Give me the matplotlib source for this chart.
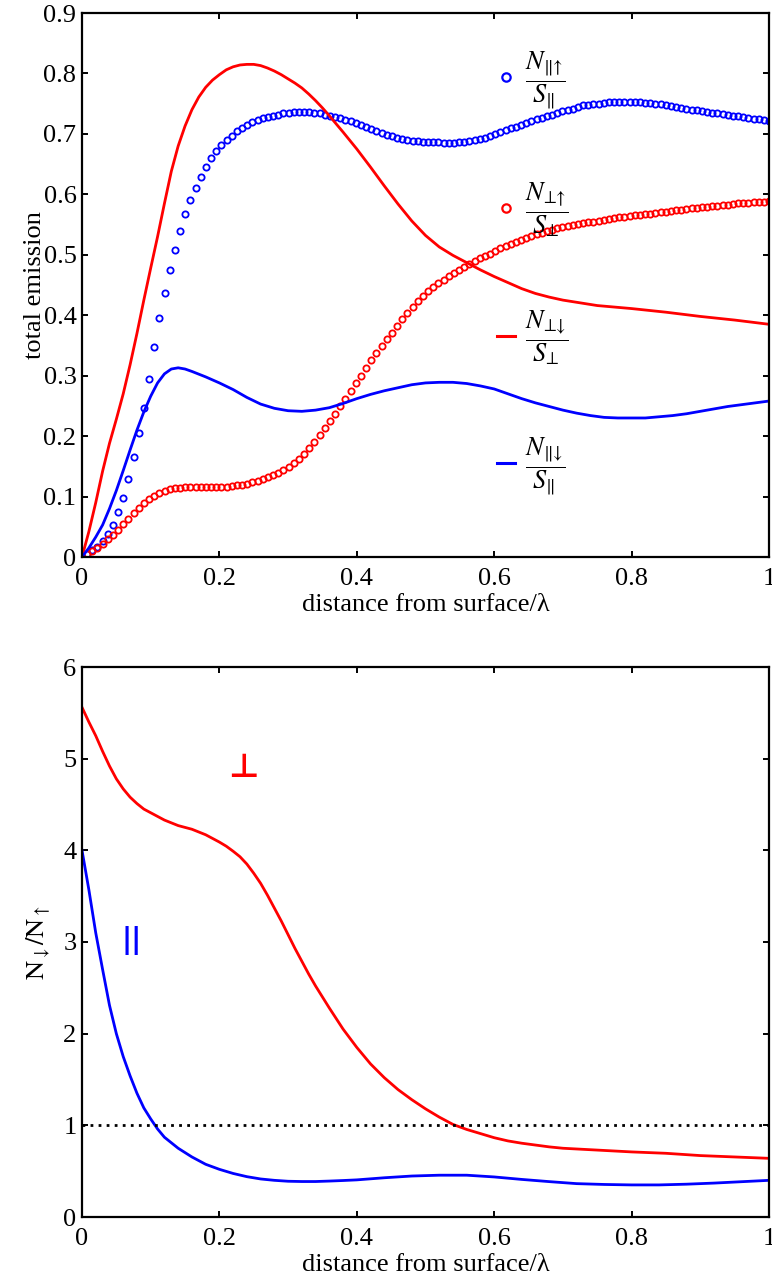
import numpy as np
import matplotlib
matplotlib.use("Agg")
import matplotlib.pyplot as plt
from matplotlib.lines import Line2D

plt.rcParams['font.family'] = ['Liberation Serif', 'DejaVu Serif']
plt.rcParams['mathtext.fontset'] = 'stix'

# ---------------- data: total emission vs distance ----------------
n_marks = 134
x_marks = np.linspace(0.0, 1.0, n_marks)

par_up = [
    0.000, 0.005, 0.011, 0.017, 0.027, 0.038, 0.053, 0.074, 0.097, 0.129,
    0.165, 0.205, 0.246, 0.295, 0.347, 0.395, 0.436, 0.474, 0.508, 0.540,
    0.567, 0.590, 0.611, 0.629, 0.646, 0.660, 0.671, 0.682, 0.690, 0.697,
    0.704, 0.710, 0.715, 0.720, 0.723, 0.726, 0.728, 0.730, 0.732, 0.734,
    0.735, 0.736, 0.737, 0.737, 0.736, 0.735, 0.734, 0.732, 0.730, 0.728,
    0.726, 0.723, 0.721, 0.718, 0.715, 0.711, 0.708, 0.704, 0.701, 0.698,
    0.696, 0.694, 0.692, 0.690, 0.689, 0.688, 0.687, 0.6865, 0.686, 0.686,
    0.6855, 0.6855, 0.6855, 0.686, 0.687, 0.688, 0.690, 0.691, 0.694, 0.697,
    0.700, 0.703, 0.706, 0.709, 0.712, 0.715, 0.718, 0.721, 0.724, 0.727,
    0.7295, 0.732, 0.735, 0.738, 0.740, 0.742, 0.745, 0.747, 0.748, 0.749,
    0.750, 0.751, 0.752, 0.7525, 0.753, 0.753, 0.753, 0.753, 0.752, 0.7515,
    0.751, 0.750, 0.749, 0.747, 0.746, 0.744, 0.743, 0.742, 0.740, 0.739,
    0.738, 0.737, 0.735, 0.734, 0.733, 0.731, 0.730, 0.729, 0.728, 0.727,
    0.725, 0.724, 0.723, 0.722,
]

perp_up = [
    0.000, 0.0045, 0.010, 0.0155, 0.022, 0.0295, 0.037, 0.0445, 0.054, 0.0635,
    0.0725, 0.081, 0.089, 0.0955, 0.101, 0.106, 0.110, 0.112, 0.1135, 0.1145,
    0.115, 0.1152, 0.1154, 0.1154, 0.1154, 0.1154, 0.1156, 0.116, 0.1165, 0.1175,
    0.1185, 0.1198, 0.1215, 0.1235, 0.126, 0.129, 0.132, 0.135, 0.139, 0.144,
    0.1495, 0.155, 0.1625, 0.1705, 0.1805, 0.191, 0.202, 0.213, 0.225, 0.237,
    0.250, 0.262, 0.275, 0.288, 0.300, 0.313, 0.326, 0.338, 0.349, 0.360,
    0.371, 0.382, 0.393, 0.403, 0.4135, 0.423, 0.432, 0.440, 0.4465, 0.453,
    0.459, 0.465, 0.470, 0.4755, 0.480, 0.485, 0.489, 0.494, 0.498, 0.502,
    0.507, 0.511, 0.5145, 0.518, 0.5215, 0.525, 0.528, 0.531, 0.534, 0.5365,
    0.539, 0.5415, 0.5435, 0.546, 0.5475, 0.549, 0.5505, 0.552, 0.5535, 0.555,
    0.5565, 0.558, 0.559, 0.5605, 0.562, 0.563, 0.564, 0.565, 0.566, 0.567,
    0.568, 0.569, 0.5705, 0.5715, 0.5725, 0.5735, 0.5745, 0.5755, 0.577, 0.578,
    0.579, 0.5795, 0.580, 0.581, 0.582, 0.583, 0.584, 0.585, 0.5855, 0.586,
    0.587, 0.5875, 0.588, 0.589,
]

x_perp_down = [
    0.00, 0.01, 0.02, 0.03, 0.04, 0.05, 0.06, 0.07, 0.08, 0.09,
    0.10, 0.11, 0.12, 0.13, 0.14, 0.15, 0.16, 0.17, 0.18, 0.19,
    0.20, 0.21, 0.22, 0.23, 0.24, 0.25, 0.26, 0.27, 0.28, 0.29,
    0.30, 0.31, 0.32, 0.33, 0.34, 0.35, 0.36, 0.38, 0.40, 0.42,
    0.44, 0.46, 0.48, 0.50, 0.52, 0.54, 0.56, 0.58, 0.60, 0.62,
    0.64, 0.66, 0.68, 0.70, 0.75, 0.80, 0.85, 0.90, 0.95, 1.00,
]
perp_down = [
    0.000, 0.042, 0.090, 0.142, 0.188, 0.228, 0.270, 0.318, 0.370, 0.425,
    0.478, 0.530, 0.585, 0.638, 0.680, 0.713, 0.740, 0.761, 0.777, 0.789,
    0.798, 0.806, 0.811, 0.814, 0.815, 0.815, 0.813, 0.809, 0.804, 0.798,
    0.791, 0.784, 0.776, 0.766, 0.755, 0.743, 0.730, 0.703, 0.675, 0.645,
    0.614, 0.584, 0.556, 0.532, 0.513, 0.499, 0.487, 0.475, 0.464, 0.454,
    0.444, 0.436, 0.430, 0.425, 0.416, 0.411, 0.405, 0.398, 0.392, 0.385,
]

x_par_down = [
    0.00, 0.01, 0.02, 0.03, 0.04, 0.05, 0.06, 0.07, 0.08, 0.09,
    0.10, 0.11, 0.12, 0.13, 0.14, 0.15, 0.16, 0.18, 0.20, 0.22,
    0.24, 0.26, 0.28, 0.30, 0.32, 0.34, 0.36, 0.38, 0.40, 0.42,
    0.44, 0.46, 0.48, 0.50, 0.52, 0.54, 0.56, 0.58, 0.60, 0.62,
    0.64, 0.66, 0.68, 0.70, 0.72, 0.74, 0.76, 0.78, 0.80, 0.82,
    0.84, 0.86, 0.88, 0.90, 0.92, 0.94, 0.96, 0.98, 1.00,
]
par_down = [
    0.000, 0.015, 0.033, 0.053, 0.080, 0.110, 0.143, 0.177, 0.210, 0.240,
    0.266, 0.288, 0.303, 0.311, 0.313, 0.311, 0.307, 0.298, 0.288, 0.277,
    0.264, 0.253, 0.246, 0.242, 0.241, 0.243, 0.247, 0.254, 0.262, 0.269,
    0.275, 0.280, 0.285, 0.288, 0.289, 0.289, 0.287, 0.283, 0.278, 0.270,
    0.262, 0.255, 0.249, 0.243, 0.238, 0.234, 0.231, 0.230, 0.230, 0.230,
    0.232, 0.234, 0.237, 0.241, 0.245, 0.249, 0.252, 0.255, 0.258,
]

# ---------------- data: down/up ratio ----------------
x_ratio_perp = [
    0.00, 0.01, 0.02, 0.03, 0.04, 0.05, 0.06, 0.07, 0.08, 0.09,
    0.10, 0.12, 0.14, 0.16, 0.18, 0.20, 0.21, 0.22, 0.23, 0.24,
    0.25, 0.26, 0.27, 0.28, 0.29, 0.30, 0.31, 0.32, 0.33, 0.34,
    0.36, 0.38, 0.40, 0.42, 0.44, 0.46, 0.48, 0.50, 0.52, 0.54,
    0.56, 0.58, 0.60, 0.62, 0.64, 0.66, 0.68, 0.70, 0.75, 0.80,
    0.85, 0.90, 0.95, 1.00,
]
ratio_perp = [
    5.56, 5.40, 5.25, 5.08, 4.92, 4.78, 4.67, 4.58, 4.51, 4.45,
    4.41, 4.33, 4.27, 4.23, 4.17, 4.09, 4.045, 3.99, 3.93, 3.85,
    3.75, 3.64, 3.51, 3.37, 3.23, 3.08, 2.93, 2.79, 2.65, 2.52,
    2.28, 2.05, 1.85, 1.67, 1.52, 1.39, 1.28, 1.18, 1.09, 1.01,
    0.955, 0.91, 0.865, 0.83, 0.805, 0.785, 0.765, 0.75, 0.73, 0.71,
    0.695, 0.67, 0.655, 0.64,
]

x_ratio_par = [
    0.00, 0.01, 0.02, 0.03, 0.04, 0.05, 0.06, 0.07, 0.08, 0.09,
    0.10, 0.11, 0.12, 0.13, 0.14, 0.16, 0.18, 0.20, 0.22, 0.24,
    0.26, 0.28, 0.30, 0.32, 0.34, 0.36, 0.38, 0.40, 0.44, 0.48,
    0.52, 0.56, 0.60, 0.64, 0.68, 0.72, 0.76, 0.80, 0.84, 0.88,
    0.92, 0.96, 1.00,
]
ratio_par = [
    4.00, 3.57, 3.10, 2.70, 2.31, 2.00, 1.75, 1.54, 1.35, 1.19,
    1.07, 0.96, 0.87, 0.81, 0.75, 0.655, 0.575, 0.52, 0.475, 0.44,
    0.415, 0.40, 0.39, 0.387, 0.387, 0.392, 0.398, 0.405, 0.428, 0.447,
    0.456, 0.456, 0.437, 0.41, 0.386, 0.364, 0.355, 0.35, 0.35, 0.358,
    0.37, 0.385, 0.40,
]

x_ticks = [0, 0.2, 0.4, 0.6, 0.8, 1]
x_tick_labels = ['0', '0.2', '0.4', '0.6', '0.8', '1']
top_y_ticks = [0, 0.1, 0.2, 0.3, 0.4, 0.5, 0.6, 0.7, 0.8, 0.9]
top_y_tick_labels = ['0', '0.1', '0.2', '0.3', '0.4', '0.5', '0.6', '0.7', '0.8', '0.9']
bottom_y_ticks = [0, 1, 2, 3, 4, 5, 6]
bottom_y_tick_labels = ['0', '1', '2', '3', '4', '5', '6']

legend_labels = [
    r'$\dfrac{N_{‖↑}}{S_{‖}}$',
    r'$\dfrac{N_{⊥↑}}{S_{⊥}}$',
    r'$\dfrac{N_{⊥↓}}{S_{⊥}}$',
    r'$\dfrac{N_{‖↓}}{S_{‖}}$',
]

RED = '#ff0000'
BLUE = '#0000ff'
TICK_FS = 19
LABEL_FS = 19

fig = plt.figure(figsize=(7.72, 12.81), dpi=100)
W, H = 772, 1281
ax1 = fig.add_axes([82 / W, 1 - 557 / H, 687 / W, 544 / H])
ax2 = fig.add_axes([82 / W, 1 - 1217 / H, 687 / W, 550 / H])


def style_axes(ax):
    for s in ax.spines.values():
        s.set_linewidth(1.6)
        s.set_color('black')
    ax.tick_params(direction='in', length=4.5, width=1.4, top=True, right=True,
                   labelsize=TICK_FS)
    ax.tick_params(axis='x', pad=8)
    ax.tick_params(axis='y', pad=4)
    ax.set_xlim(0, 1)
    ax.set_xticks(x_ticks)
    ax.set_xticklabels(x_tick_labels)


# ---- upper panel ----
mark_kw = dict(ls='none', marker='o', ms=4.5, mew=1.3, mfc='none')
ax1.plot(x_marks, par_up, color=BLUE, **mark_kw)
ax1.plot(x_marks, perp_up, color=RED, **mark_kw)
ax1.plot(x_perp_down, perp_down, color=RED, lw=2.0)
ax1.plot(x_par_down, par_down, color=BLUE, lw=2.0)
style_axes(ax1)
ax1.set_ylim(0, 0.9)
ax1.set_yticks(top_y_ticks)
ax1.set_yticklabels(top_y_tick_labels)
ax1.set_xlabel('distance from surface/λ', fontsize=LABEL_FS, labelpad=3)
ax1.set_ylabel('total emission', fontsize=LABEL_FS, labelpad=-2)

handles = [
    Line2D([], [], color=BLUE, ls='none', marker='o', ms=6, mew=1.6, mfc='none'),
    Line2D([], [], color=RED, ls='none', marker='o', ms=6, mew=1.6, mfc='none'),
    Line2D([], [], color=RED, lw=2.2),
    Line2D([], [], color=BLUE, lw=2.2),
]
ax1.legend(handles, legend_labels, loc='upper left', bbox_to_anchor=(0.604, 0.933),
           frameon=False, fontsize=19, handlelength=0.7, handletextpad=0.35,
           labelspacing=2.6, borderpad=0, borderaxespad=0)

# ---- lower panel ----
ax2.plot(x_ratio_perp, ratio_perp, color=RED, lw=2.0)
ax2.plot(x_ratio_par, ratio_par, color=BLUE, lw=2.0)
ax2.axhline(1.0, color='black', lw=2.0, ls=(0, (1, 1.9)))
style_axes(ax2)
ax2.set_ylim(0, 6)
ax2.set_yticks(bottom_y_ticks)
ax2.set_yticklabels(bottom_y_tick_labels)
ax2.set_xlabel('distance from surface/λ', fontsize=LABEL_FS, labelpad=3)
ax2.set_ylabel(r'$\mathrm{N_{\downarrow}/N_{\uparrow}}$', fontsize=LABEL_FS, labelpad=8)
ax2.text(0.235, 4.9, '⊥', color=RED, fontsize=24, family='DejaVu Sans',
         fontweight='bold', ha='center', va='center')
ax2.text(0.072, 3.02, '||', color=BLUE, fontsize=20, family='DejaVu Sans',
         fontweight='bold', ha='center', va='center')

fig.savefig('out.png', dpi=100)
